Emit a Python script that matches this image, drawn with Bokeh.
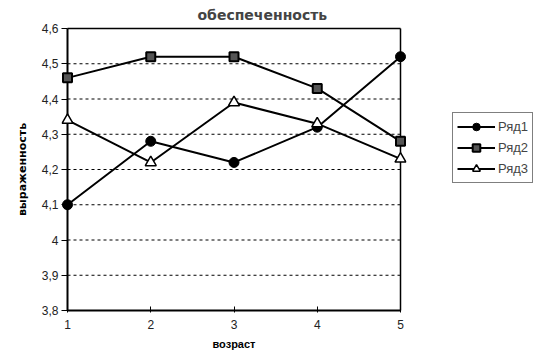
from bokeh.plotting import figure
from bokeh.models import FixedTicker, Legend, LegendItem, Range1d
from bokeh.embed import file_html
from bokeh.resources import INLINE

x_vals = [1, 2, 3, 4, 5]
ryad1 = [4.10, 4.28, 4.22, 4.32, 4.52]
ryad2 = [4.46, 4.52, 4.52, 4.43, 4.28]
ryad3 = [4.34, 4.22, 4.39, 4.33, 4.23]
series_names = ["Ряд1", "Ряд2", "Ряд3"]
y_ticks = [3.8, 3.9, 4.0, 4.1, 4.2, 4.3, 4.4, 4.5, 4.6]
y_tick_labels = ["3,8", "3,9", "4", "4,1", "4,2", "4,3", "4,4", "4,5", "4,6"]
x_min, x_max = 1, 5
y_min, y_max = 3.8, 4.6

FONT = "Liberation Sans"
BOLD_FONT = "DejaVu Sans"

# frame a little larger than the data box so the end markers are not clipped
FW, FH = 345, 286
x_pad = (x_max - x_min) * 6 / 333
y_pad = (y_max - y_min) * 2 / 282

p = figure(width=540, height=355, output_backend="svg", toolbar_location=None,
           frame_width=FW, frame_height=FH,
           min_border_left=61, min_border_right=134, min_border_top=26, min_border_bottom=43,
           x_range=Range1d(x_min - x_pad, x_max + x_pad),
           y_range=Range1d(y_min - y_pad, y_max + y_pad))

p.title.text = "обеспеченность"
p.title.align = "left"
p.title.offset = 136
p.title.text_font = BOLD_FONT
p.title.text_font_size = "14px"
p.title.text_font_style = "bold"
p.title.standoff = 7

p.outline_line_color = None
p.background_fill_color = "white"
p.border_fill_color = "white"
p.xgrid.visible = False
p.ygrid.visible = False

# dashed horizontal gridlines across the data box only
grid_vals = y_ticks[1:-1]
p.segment(x0=[x_min] * len(grid_vals), x1=[x_max] * len(grid_vals), y0=grid_vals, y1=grid_vals,
          line_color="black", line_width=1, line_dash="3 3")
# data box border
p.segment(x0=[x_min, x_min, x_max, x_min], x1=[x_max, x_max, x_max, x_min],
          y0=[y_min, y_max, y_min, y_min], y1=[y_min, y_max, y_max, y_max],
          line_color="black", line_width=[2, 1.5, 1.5, 2])

p.xaxis.ticker = FixedTicker(ticks=x_vals)
p.yaxis.ticker = FixedTicker(ticks=y_ticks)
p.yaxis.major_label_overrides = {t: l for t, l in zip(y_ticks, y_tick_labels)}
for ax in (p.xaxis, p.yaxis):
    ax.axis_line_color = None
    ax.major_tick_line_color = "black"
    ax.minor_tick_line_color = None
    ax.major_label_text_font = FONT
    ax.major_label_text_font_size = "12px"
    ax.major_label_text_color = "#222222"
    ax.axis_label_text_font_size = "11px"
    ax.axis_label_text_font_style = "bold"
    ax.axis_label_text_color = "black"
p.xaxis.axis_label_text_font = FONT
p.yaxis.axis_label_text_font = BOLD_FONT
p.xaxis.major_tick_in = 6
p.xaxis.major_tick_out = 0
p.yaxis.major_tick_in = 6
p.yaxis.major_tick_out = 0
p.xaxis.major_label_standoff = 7
p.yaxis.major_label_standoff = 3
p.xaxis.axis_label = "возраст"
p.yaxis.axis_label = "выраженность"
p.xaxis.axis_label_standoff = 6
p.yaxis.axis_label_standoff = 10

l1 = p.line(x_vals, ryad1, line_color="black", line_width=2)
m1 = p.scatter(x_vals, ryad1, marker="circle", size=10, fill_color="black", line_color="black")
l2 = p.line(x_vals, ryad2, line_color="black", line_width=2)
m2 = p.scatter(x_vals, ryad2, marker="square", size=9, fill_color="#555555", line_color="black", line_width=2)
l3 = p.line(x_vals, ryad3, line_color="black", line_width=2)
m3 = p.scatter(x_vals, ryad3, marker="triangle", size=11, fill_color="white", line_color="black", line_width=1.5)

legend = Legend(items=[LegendItem(label=series_names[0], renderers=[l1, m1]),
                       LegendItem(label=series_names[1], renderers=[l2, m2]),
                       LegendItem(label=series_names[2], renderers=[l3, m3])],
                location=(46, 129))
legend.border_line_color = "black"
legend.border_line_width = 1
legend.label_text_font = FONT
legend.label_text_font_size = "13px"
legend.glyph_width = 38
legend.glyph_height = 19
legend.spacing = 2
legend.padding = 4
legend.margin = 0
legend.label_standoff = 3
legend.background_fill_alpha = 1
p.add_layout(legend, "right")

open("out.html", "w").write(file_html(p, INLINE))
